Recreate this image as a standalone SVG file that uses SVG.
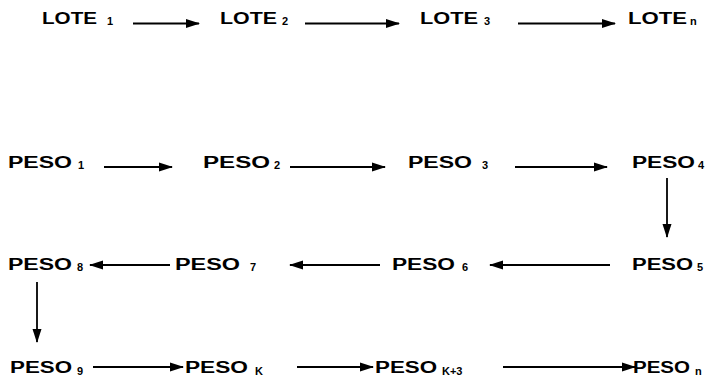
<svg xmlns="http://www.w3.org/2000/svg" width="708" height="379" viewBox="0 0 708 379">
<style>
.t{font-family:"Liberation Sans",Arial,sans-serif;font-weight:bold;font-size:16px;fill:#000}
.s{font-family:"Liberation Sans",Arial,sans-serif;font-weight:bold;font-size:11px;fill:#000}
.c{stroke:#000;stroke-width:1.8;fill:none;marker-end:url(#ah)}
</style>
<defs>
<marker id="ah" markerUnits="userSpaceOnUse" markerWidth="14" markerHeight="10" refX="13" refY="5" orient="auto">
<path d="M0,0.5 L14,5 L0,9.5 z" fill="#000"/>
</marker>
</defs>
<rect width="708" height="379" fill="#fff"/>
<g id="lote1"><text class="t" x="42" y="23.5" textLength="55" lengthAdjust="spacingAndGlyphs">LOTE</text><text class="s" x="107" y="25">1</text></g>
<g id="lote2"><text class="t" x="220" y="23.5" textLength="57" lengthAdjust="spacingAndGlyphs">LOTE</text><text class="s" x="282" y="25">2</text></g>
<g id="lote3"><text class="t" x="420" y="23.5" textLength="58" lengthAdjust="spacingAndGlyphs">LOTE</text><text class="s" x="484" y="25">3</text></g>
<g id="loten"><text class="t" x="628" y="23.5" textLength="59" lengthAdjust="spacingAndGlyphs">LOTE</text><text class="s" x="690" y="25">n</text></g>

<g id="peso1"><text class="t" x="8" y="168" textLength="64" lengthAdjust="spacingAndGlyphs">PESO</text><text class="s" x="78" y="169">1</text></g>
<g id="peso2"><text class="t" x="203" y="168" textLength="67" lengthAdjust="spacingAndGlyphs">PESO</text><text class="s" x="274" y="169">2</text></g>
<g id="peso3"><text class="t" x="408" y="168" textLength="64" lengthAdjust="spacingAndGlyphs">PESO</text><text class="s" x="482" y="169">3</text></g>
<g id="peso4"><text class="t" x="632" y="168" textLength="63" lengthAdjust="spacingAndGlyphs">PESO</text><text class="s" x="698" y="169">4</text></g>

<g id="peso8"><text class="t" x="8" y="270" textLength="64" lengthAdjust="spacingAndGlyphs">PESO</text><text class="s" x="77" y="271">8</text></g>
<g id="peso7"><text class="t" x="175" y="270" textLength="65" lengthAdjust="spacingAndGlyphs">PESO</text><text class="s" x="250" y="271">7</text></g>
<g id="peso6"><text class="t" x="392" y="270" textLength="63" lengthAdjust="spacingAndGlyphs">PESO</text><text class="s" x="462" y="271">6</text></g>
<g id="peso5"><text class="t" x="632" y="270" textLength="61" lengthAdjust="spacingAndGlyphs">PESO</text><text class="s" x="697" y="271">5</text></g>

<g id="peso9"><text class="t" x="10" y="373" textLength="62" lengthAdjust="spacingAndGlyphs">PESO</text><text class="s" x="77" y="375">9</text></g>
<g id="pesok"><text class="t" x="185" y="373" textLength="63" lengthAdjust="spacingAndGlyphs">PESO</text><text class="s" x="255" y="375">K</text></g>
<g id="pesok3"><text class="t" x="375" y="373" textLength="62" lengthAdjust="spacingAndGlyphs">PESO</text><text class="s" x="442" y="375">K+3</text></g>
<g id="peson"><text class="t" x="633" y="373" textLength="57" lengthAdjust="spacingAndGlyphs">PESO</text><text class="s" x="695" y="375">n</text></g>

<g id="connectors">
<line class="c" x1="133" y1="23.5" x2="199" y2="23.5"/>
<line class="c" x1="305" y1="23.5" x2="399" y2="23.5"/>
<line class="c" x1="518" y1="23.5" x2="615" y2="23.5"/>

<line class="c" x1="104" y1="167" x2="172" y2="167"/>
<line class="c" x1="290" y1="167" x2="385" y2="167"/>
<line class="c" x1="515" y1="167" x2="607" y2="167"/>
<line class="c" x1="667" y1="178" x2="667" y2="237"/>

<line class="c" x1="610" y1="265" x2="490" y2="265"/>
<line class="c" x1="380" y1="265" x2="290" y2="265"/>
<line class="c" x1="170" y1="265" x2="90" y2="265"/>
<line class="c" x1="37" y1="282" x2="37" y2="342"/>

<line class="c" x1="93" y1="367" x2="183" y2="367"/>
<line class="c" x1="297" y1="367" x2="373" y2="367"/>
<line class="c" x1="503" y1="367" x2="635" y2="367"/>
</g>
</svg>
